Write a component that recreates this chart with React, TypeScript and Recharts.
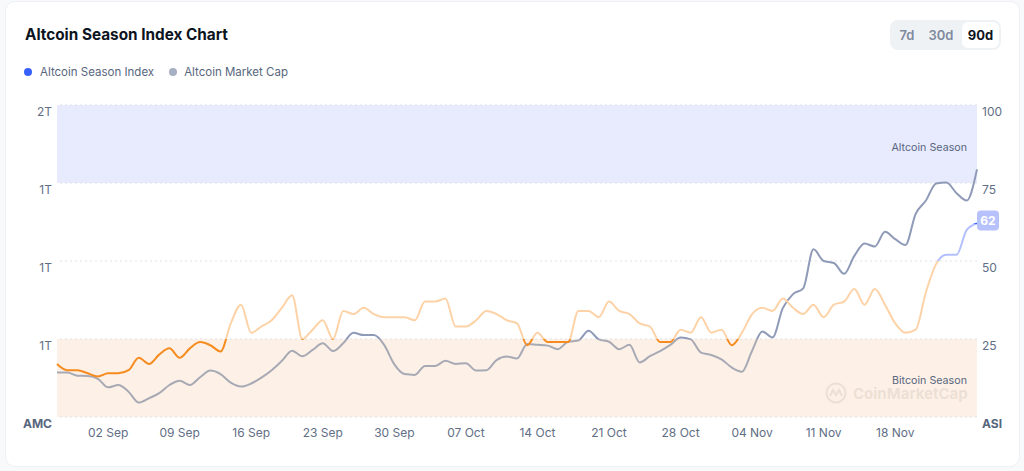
import {
  LineChart,
  Line,
  XAxis,
  YAxis,
  ReferenceArea,
  ReferenceLine,
} from "recharts";

// Altcoin Season Index, one point per day from 28 Aug
const asiValues = [
  17, 15, 15, 14, 13, 14, 14, 15, 19, 17,
  20, 22, 19, 22, 24, 23, 21, 30, 36, 27,
  29, 31, 35, 39, 25, 28, 31, 25, 34, 33,
  35, 33, 32, 32, 32, 31, 37, 37, 38, 29,
  29, 31, 34, 33, 31, 30, 23, 27, 24, 24,
  24, 34, 34, 32, 37, 34, 33, 30, 29, 24,
  24, 28, 27, 32, 27, 28, 23, 27, 33, 35,
  34, 38, 35, 33, 36, 32, 36, 37, 41, 36,
  41, 36, 30, 27, 28, 40, 49, 52, 52, 60, 62,
];

// Altcoin market cap, trillions USD
const amcValues = [
  0.914, 0.914, 0.906, 0.905, 0.898, 0.876, 0.882, 0.865, 0.837, 0.848,
  0.861, 0.882, 0.893, 0.882, 0.902, 0.919, 0.91, 0.888, 0.878, 0.886,
  0.901, 0.92, 0.944, 0.97, 0.956, 0.972, 0.989, 0.969, 0.989, 1.016,
  1.01, 1.01, 0.985, 0.935, 0.91, 0.908, 0.931, 0.931, 0.944, 0.936,
  0.938, 0.919, 0.92, 0.946, 0.955, 0.95, 0.987, 0.985, 0.983, 0.974,
  0.993, 0.996, 1.021, 0.999, 0.993, 0.974, 0.985, 0.94, 0.956, 0.969,
  0.985, 1.004, 0.999, 0.965, 0.959, 0.948, 0.927, 0.916, 0.97, 1.019,
  1.004, 1.079, 1.115, 1.13, 1.23, 1.2, 1.195, 1.167, 1.213, 1.245,
  1.237, 1.275, 1.256, 1.241, 1.321, 1.355, 1.399, 1.401, 1.374, 1.355, 1.435,
];

const xTickLabels = [
  "02 Sep", "09 Sep", "16 Sep", "23 Sep", "30 Sep", "07 Oct",
  "14 Oct", "21 Oct", "28 Oct", "04 Nov", "11 Nov", "18 Nov",
];

const asiTicks = [0, 25, 50, 75, 100];
const asiTickLabels = ["ASI", "25", "50", "75", "100"];
const amcTicks = [0.8, 1.0, 1.2, 1.4, 1.6];
const amcTickLabels = ["AMC", "1T", "1T", "1T", "2T"];

const MONTHS = ["Jan", "Feb", "Mar", "Apr", "May", "Jun", "Jul", "Aug", "Sep", "Oct", "Nov", "Dec"];
const dateLabels = asiValues.map((_, i) => {
  const d = new Date(Date.UTC(2024, 7, 28 + i));
  return `${String(d.getUTCDate()).padStart(2, "0")} ${MONTHS[d.getUTCMonth()]}`;
});

const data = asiValues.map((v, i) => ({ i, asi: v, amc: amcValues[i] }));
const xTicks = xTickLabels.map((l) => dateLabels.indexOf(l));

// gradient stop offsets (objectBoundingBox, 0 = top of line's range)
const offsetFor = (vals: number[], t: number) => {
  const max = Math.max(...vals);
  const min = Math.min(...vals);
  return Math.min(1, Math.max(0, (max - t) / (max - min)));
};
const asi75 = offsetFor(asiValues, 75);
const asi50 = offsetFor(asiValues, 50);
const asi25 = offsetFor(asiValues, 25);
const amc1 = offsetFor(amcValues, 1.0);

const FONT = "Inter, 'Noto Sans', sans-serif";
const AXIS_TEXT = "#616e85";

function LeftTick(props: any) {
  const { x, y, payload } = props;
  const idx = amcTicks.indexOf(payload.value);
  const first = idx === 0;
  return (
    <text x={x - 5} y={y + 11} textAnchor="end" fontSize={12} fontFamily={FONT}
      fill={first ? "#58667e" : AXIS_TEXT} fontWeight={first ? 700 : 400}>
      {amcTickLabels[idx]}
    </text>
  );
}

function RightTick(props: any) {
  const { x, y, payload } = props;
  const idx = asiTicks.indexOf(payload.value);
  const first = idx === 0;
  return (
    <text x={x + 5} y={y + 11} textAnchor="start" fontSize={12} fontFamily={FONT}
      fill={first ? "#58667e" : AXIS_TEXT} fontWeight={first ? 700 : 400}>
      {asiTickLabels[idx]}
    </text>
  );
}

function BottomTick(props: any) {
  const { x, y, payload } = props;
  return (
    <text x={x} y={y + 20} textAnchor="middle" fontSize={12} fontFamily={FONT} fill={AXIS_TEXT}>
      {dateLabels[payload.value]}
    </text>
  );
}

function LastBadge(props: any) {
  const { x, y, index, value } = props;
  if (index !== asiValues.length - 1) return null;
  return (
    <g>
      <rect x={x} y={y - 13} width={22} height={20} rx={4} fill="#b7c2fd" />
      <text x={x + 11} y={y + 1} textAnchor="middle" fontSize={12} fontWeight={700}
        fontFamily={FONT} fill="#ffffff">
        {value}
      </text>
    </g>
  );
}

export default function App() {
  return (
    <div style={{ position: "relative", width: 1024, height: 471, background: "#f8f9fb", fontFamily: FONT, overflow: "hidden" }}>
      <style>{`body{margin:0}`}</style>
      <div style={{
        position: "absolute", left: 5, top: 1, width: 1015, height: 466,
        background: "#fff", border: "1px solid #eef0f4", borderRadius: 10, boxSizing: "border-box",
      }} />

      <div style={{ position: "absolute", left: 25, top: 26, fontSize: 15.3, lineHeight: "18px", fontWeight: 700, color: "#0d1421" }}>
        Altcoin Season Index Chart
      </div>

      <div style={{ position: "absolute", left: 24, top: 64, display: "flex", alignItems: "center", fontSize: 11.5, lineHeight: "16px", color: "#58667e" }}>
        <span style={{ width: 8, height: 8, borderRadius: 4, background: "#3861fb", marginRight: 8 }} />
        <span>Altcoin Season Index</span>
        <span style={{ width: 8, height: 8, borderRadius: 4, background: "#a6b0c3", marginLeft: 15, marginRight: 7 }} />
        <span>Altcoin Market Cap</span>
      </div>

      <div style={{ position: "absolute", left: 890, top: 20, width: 111, height: 30, background: "#eff2f5", borderRadius: 8 }}>
        <span style={{ position: "absolute", left: 6, width: 22, top: 7, textAlign: "center", fontSize: 13, lineHeight: "16px", fontWeight: 600, color: "#808a9d" }}>7d</span>
        <span style={{ position: "absolute", left: 37, width: 28, top: 7, textAlign: "center", fontSize: 13, lineHeight: "16px", fontWeight: 600, color: "#808a9d" }}>30d</span>
        <div style={{ position: "absolute", left: 72, top: 2, width: 37, height: 26, background: "#fff", borderRadius: 6 }}>
          <span style={{ position: "absolute", left: 0, width: 37, top: 5, textAlign: "center", fontSize: 13, lineHeight: "16px", fontWeight: 700, color: "#0d1421" }}>90d</span>
        </div>
      </div>

      <div style={{ position: "absolute", left: 0, top: 95 }}>
        <LineChart width={1024} height={360} data={data} margin={{ top: 10, right: 0, bottom: 8, left: 0 }}>
          <defs>
            <linearGradient id="asiGrad" x1="0" y1="0" x2="0" y2="1">
              <stop offset={asi75} stopColor="#3861fb" />
              <stop offset={asi75} stopColor="#b3bffd" />
              <stop offset={asi50} stopColor="#b3bffd" />
              <stop offset={asi50} stopColor="#fdd2a6" />
              <stop offset={asi25} stopColor="#fdd2a6" />
              <stop offset={asi25} stopColor="#f68b1f" />
            </linearGradient>
            <linearGradient id="amcGrad" x1="0" y1="0" x2="0" y2="1">
              <stop offset={amc1} stopColor="#8e9ab7" />
              <stop offset={amc1} stopColor="#a7a9b4" />
            </linearGradient>
          </defs>

          <XAxis dataKey="i" type="number" domain={["dataMin", "dataMax"]} ticks={xTicks}
            axisLine={false} tickLine={false} tickSize={0} tickMargin={0} height={30}
            tick={BottomTick} interval={0} />
          <YAxis yAxisId="amc" orientation="left" width={57} domain={[0.8, 1.6]} ticks={amcTicks}
            axisLine={false} tickLine={false} tickSize={0} tickMargin={0} tick={LeftTick} interval={0} />
          <YAxis yAxisId="asi" orientation="right" width={47} domain={[0, 100]} ticks={asiTicks}
            axisLine={false} tickLine={false} tickSize={0} tickMargin={0} tick={RightTick} interval={0} />

          <ReferenceArea yAxisId="asi" y1={75} y2={100} fill="#e8ebfe" fillOpacity={1} stroke="none"
            label={{ value: "Altcoin Season", position: "insideRight", offset: 10, dy: 3, fill: "#58667e", fontSize: 10.7, fontFamily: FONT }} />
          <ReferenceArea yAxisId="asi" y1={0} y2={25} fill="#fdf1e7" fillOpacity={1} stroke="none"
            label={{ value: "Bitcoin Season", position: "insideRight", offset: 10, dy: 2, fill: "#58667e", fontSize: 10.7, fontFamily: FONT }} />
          {asiTicks.map((t) => (
            <ReferenceLine key={t} yAxisId="asi" y={t} stroke="#dde1e8" strokeDasharray="2 3" />
          ))}

          <Line yAxisId="amc" type="monotone" dataKey="amc" stroke="url(#amcGrad)" strokeWidth={2}
            dot={false} activeDot={false} isAnimationActive={false} />
          <Line yAxisId="asi" type="monotone" dataKey="asi" stroke="url(#asiGrad)" strokeWidth={2}
            dot={false} activeDot={false} isAnimationActive={false} label={LastBadge} />
        </LineChart>
      </div>

      <div style={{ position: "absolute", left: 825, top: 382, display: "flex", alignItems: "center", opacity: 0.12, pointerEvents: "none" }}>
        <svg width={22} height={22} viewBox="0 0 22 22">
          <circle cx={11} cy={11} r={9.5} fill="none" stroke="#7a6a5a" strokeWidth={2} />
          <path d="M5 14 L8 8 L11 13 L14 8 L17 14" fill="none" stroke="#7a6a5a" strokeWidth={2} />
        </svg>
        <span style={{ marginLeft: 6, fontSize: 15, fontWeight: 700, color: "#7a6a5a" }}>CoinMarketCap</span>
      </div>
    </div>
  );
}
